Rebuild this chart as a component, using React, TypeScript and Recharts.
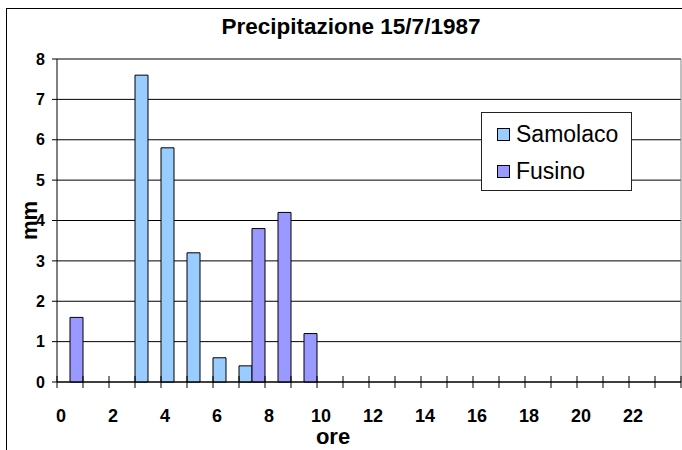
import { BarChart, Bar, XAxis, YAxis, CartesianGrid, Legend, Label } from 'recharts';

const hours = Array.from({ length: 24 }, (_, i) => String(i));
const samolaco = [null, null, null, 7.6, 5.8, 3.2, 0.6, 0.4, null, null, null, null, null, null, null, null, null, null, null, null, null, null, null, null];
const fusino = [1.6, null, null, null, null, null, null, 3.8, 4.2, 1.2, null, null, null, null, null, null, null, null, null, null, null, null, null, null];
const mmTicks = [0, 1, 2, 3, 4, 5, 6, 7, 8];

const data = hours.map((h, i) => ({ ora: h, Samolaco: samolaco[i], Fusino: fusino[i] }));

const FONT = '"Liberation Sans", Arial, sans-serif';
const COLORS = { Samolaco: '#99CCFF', Fusino: '#9999FF' };

function HourTick(props: any) {
  const { x, y, payload, index } = props;
  const half = payload?.offset ?? 13;
  const left = x - half;
  return (
    <g>
      <line x1={left} x2={left} y1={y - 6} y2={y + 6} stroke="#000" />
      {index === hours.length - 1 && <line x1={x + half} x2={x + half} y1={y - 6} y2={y + 6} stroke="#000" />}
      {index % 2 === 0 && (
        <text x={left + 4} y={y + 40} textAnchor="middle" fontFamily={FONT} fontWeight="bold" fontSize={18} fill="#000">
          {payload.value}
        </text>
      )}
    </g>
  );
}

function LegendBox() {
  const items = ['Samolaco', 'Fusino'] as const;
  return (
    <div
      style={{
        width: 151,
        height: 79,
        boxSizing: 'border-box',
        border: '1px solid #222',
        background: '#fff',
        fontFamily: FONT,
        fontSize: 23,
        paddingTop: 5,
        paddingLeft: 15,
      }}
    >
      {items.map((name) => (
        <div key={name} style={{ display: 'flex', alignItems: 'center', height: 33, marginBottom: 4 }}>
          <span style={{ width: 13, height: 13, flexShrink: 0, boxSizing: 'border-box', border: '1px solid #000', background: COLORS[name], marginRight: 6 }} />
          <span>{name}</span>
        </div>
      ))}
    </div>
  );
}

export default function App() {
  return (
    <div style={{ position: 'absolute', left: 0, top: 0, width: 682, height: 450, overflow: 'hidden', background: '#fff' }}>
      <div style={{ position: 'absolute', left: 6, top: 8, width: 720, height: 480, border: '1px solid #000' }} />
      <div
        style={{
          position: 'absolute',
          left: 0,
          top: 14,
          width: 702,
          textAlign: 'center',
          fontFamily: FONT,
          fontWeight: 'bold',
          fontSize: 22.5,
          lineHeight: '26px',
        }}
      >
        Precipitazione 15/7/1987
      </div>
      <div style={{ position: 'absolute', left: 0, top: 0 }}>
        <BarChart
          width={682}
          height={450}
          data={data}
          margin={{ top: 59, right: 1, bottom: 8, left: 7 }}
          barCategoryGap={0}
          barGap={0}
        >
          <CartesianGrid vertical={false} stroke="#000" />
          <CartesianGrid
            horizontal={false}
            stroke="#808080"
            verticalCoordinatesGenerator={({ offset }: any) => [offset.left + offset.width]}
          />
          <XAxis
            dataKey="ora"
            interval={0}
            height={60}
            tickSize={0}
            tickMargin={0}
            stroke="#000"
            tick={(p: any) => <HourTick {...p} />}
          >
            <Label
              content={({ viewBox }: any) => (
                <text
                  x={viewBox.x + viewBox.width / 2 - 36}
                  y={viewBox.y + 62}
                  textAnchor="middle"
                  fontFamily={FONT}
                  fontWeight="bold"
                  fontSize={22}
                  fill="#000"
                >
                  ore
                </text>
              )}
            />
          </XAxis>
          <YAxis
            width={50}
            domain={[0, 8]}
            ticks={mmTicks}
            interval={0}
            tickSize={5}
            tickMargin={7}
            stroke="#000"
            tick={{ fill: '#000', fontFamily: FONT, fontWeight: 'bold', fontSize: 16 }}
          >
            <Label
              content={({ viewBox }: any) => (
                <text
                  x={viewBox.x + 22}
                  y={viewBox.y + viewBox.height / 2}
                  transform={`rotate(-90 ${viewBox.x + 22} ${viewBox.y + viewBox.height / 2})`}
                  textAnchor="middle"
                  dominantBaseline="central"
                  fontFamily={FONT}
                  fontWeight="bold"
                  fontSize={22}
                  fill="#000"
                >
                  mm
                </text>
              )}
            />
          </YAxis>
          <Legend
            layout="vertical"
            align="center"
            verticalAlign="middle"
            wrapperStyle={{ left: 481, top: 112, width: 151 }}
            content={() => <LegendBox />}
          />
          <Bar dataKey="Samolaco" fill={COLORS.Samolaco} stroke="#000" strokeWidth={1} isAnimationActive={false} />
          <Bar dataKey="Fusino" fill={COLORS.Fusino} stroke="#000" strokeWidth={1} isAnimationActive={false} />
        </BarChart>
      </div>
    </div>
  );
}
